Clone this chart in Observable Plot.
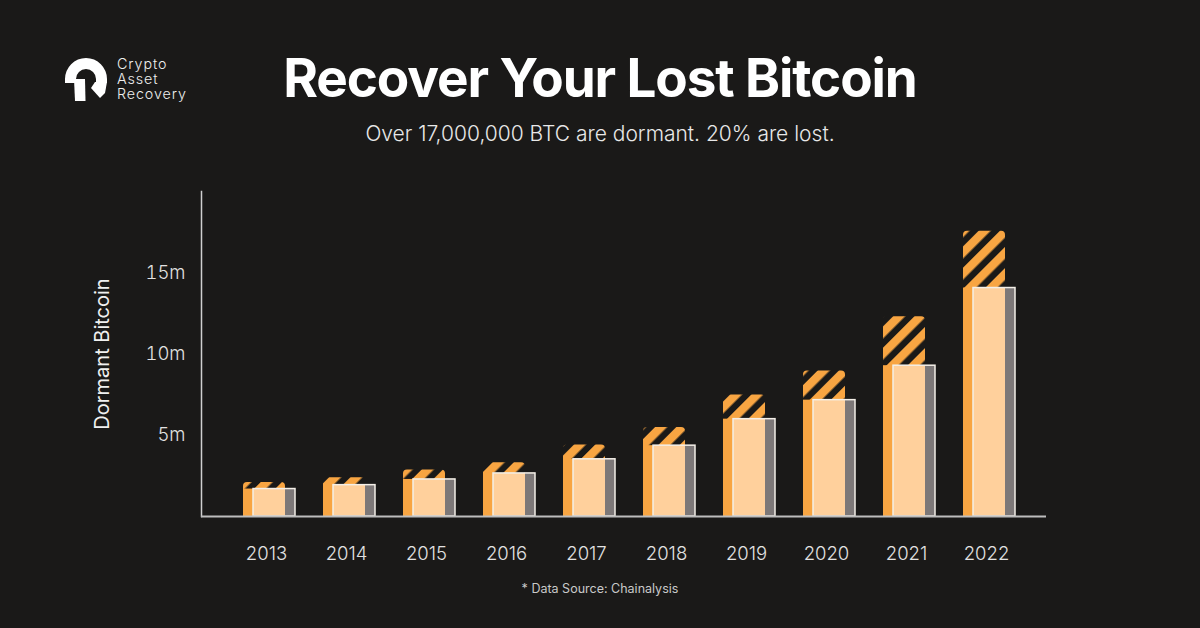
<!DOCTYPE html>
<html><head><meta charset="utf-8">
<script src="https://cdn.jsdelivr.net/npm/d3@7"></script>
<script src="https://cdn.jsdelivr.net/npm/@observablehq/plot@0.6"></script>
<style>
html,body{margin:0;padding:0;background:#1a1918;}
#root{position:relative;width:1200px;height:628px;overflow:hidden;background:#1a1918;font-family:Inter,"Noto Sans",sans-serif;color:#fff;}
#title{position:absolute;left:0;width:1200px;top:47.5px;text-align:center;font-size:53px;font-weight:700;letter-spacing:-1.1px;line-height:60px;white-space:nowrap;}
#subtitle{position:absolute;left:0;width:1200px;top:119.5px;text-align:center;font-size:21px;font-weight:300;color:#e8e8e8;line-height:28px;white-space:nowrap;}
#caption{position:absolute;left:0;width:1200px;top:581px;text-align:center;font-size:12.5px;font-weight:400;color:#c9c9c9;line-height:16px;}
#logo{position:absolute;left:0;top:0;}
#brand{position:absolute;left:117px;top:55.5px;font-size:14.3px;line-height:15px;font-weight:300;letter-spacing:0.9px;color:#eeeeee;}
#chart{position:absolute;left:0;top:170px;}
</style>
</head><body>
<div id="root">
  <svg id="logo" width="130" height="110">
    <path d="M65,79 A21,21 0 0 1 107,79 L107,83 L96,83 L96,79 A10,10 0 0 0 76,79 L76,83 L65,83 Z" fill="#ffffff"/>
    <path d="M74,79 L85,79 L85.5,101 L75,101 Z" fill="#ffffff"/>
    <path d="M95,82 L107,82 L105,93 L100,98 L91,88 Z" fill="#ffffff"/>
  </svg>
  <div id="brand">Crypto<br>Asset<br>Recovery</div>
  <div id="title">Recover Your Lost Bitcoin</div>
  <div id="subtitle">Over 17,000,000 BTC are dormant. 20% are lost.</div>
  <div id="chart"></div>
  <div id="caption">* Data Source: Chainalysis</div>
</div>
<script>
// ---- data (millions of BTC) ----
const years = ["2013","2014","2015","2016","2017","2018","2019","2020","2021","2022"];
const dormant = [2.10, 2.39, 2.86, 3.31, 4.40, 5.47, 7.47, 8.95, 12.30, 17.55];
const retained = [1.69, 1.93, 2.28, 2.65, 3.52, 4.36, 5.99, 7.16, 9.28, 14.06];
const yTicks = [5, 10, 15];
const yLabel = "Dormant Bitcoin";

const ORANGE = "#f8a542";
const PEACH = "#ffd09c";
const GREY = "#7d7878";
const BG = "#1a1918";

const data = years.map((year, i) => ({year, dormant: dormant[i], retained: retained[i]}));

const chart = Plot.plot({
  width: 1200,
  height: 400,
  marginTop: 21,
  marginBottom: 54,
  marginLeft: 201,
  marginRight: 154,
  style: {background: "transparent", color: "#dcdcdc", fontFamily: "Inter, 'Noto Sans', sans-serif"},
  x: {type: "band", domain: years, range: [225.5, 1025.5], padding: 0},
  y: {domain: [0, 20]},
  marks: [
    Plot.barY(data, {x: "year", y: "dormant", fill: "url(#stripes)", insetLeft: 17, insetRight: 21, rx: 4}),
    Plot.barY(data, {x: "year", y: "retained", fill: ORANGE, insetLeft: 17, insetRight: 21}),
    Plot.barY(data, {x: "year", y: "retained", fill: PEACH, insetLeft: 27, insetRight: 11}),
    Plot.barY(data, {x: "year", y: "retained", fill: GREY, insetLeft: 59, insetRight: 11}),
    Plot.barY(data, {x: "year", y: "retained", fill: "none", stroke: "#f4efe8", strokeWidth: 1.5, insetLeft: 27, insetRight: 11}),
    Plot.frame({anchor: "left", stroke: "#cfcfcf", strokeWidth: 1.5}),
    Plot.ruleY([0], {stroke: "#bdbdbd", strokeWidth: 2}),
    Plot.axisX({tickSize: 0, tickPadding: 30, fontSize: 18.5, fontWeight: 300, fill: "#e2e2e2", label: null}),
    Plot.axisY(yTicks, {tickSize: 0, tickPadding: 16, tickFormat: d => d + "m", fontSize: 18.5, fontWeight: 300, fill: "#e2e2e2", label: null}),
    Plot.text([yLabel], {text: d => d, frameAnchor: "left", textAnchor: "middle", lineAnchor: "middle", rotate: -90, dx: -99, fontSize: 20, fontWeight: 400, fill: "#f0f0f0"})
  ]
});

d3.select(chart).insert("defs", ":first-child").html(
  `<pattern id="stripes" patternUnits="userSpaceOnUse" width="15" height="15" patternTransform="rotate(45)">
     <rect width="15" height="15" fill="${BG}"/>
     <rect width="8.5" height="15" fill="${ORANGE}"/>
   </pattern>`);

document.getElementById("chart").appendChild(chart);
</script>
</body></html>
